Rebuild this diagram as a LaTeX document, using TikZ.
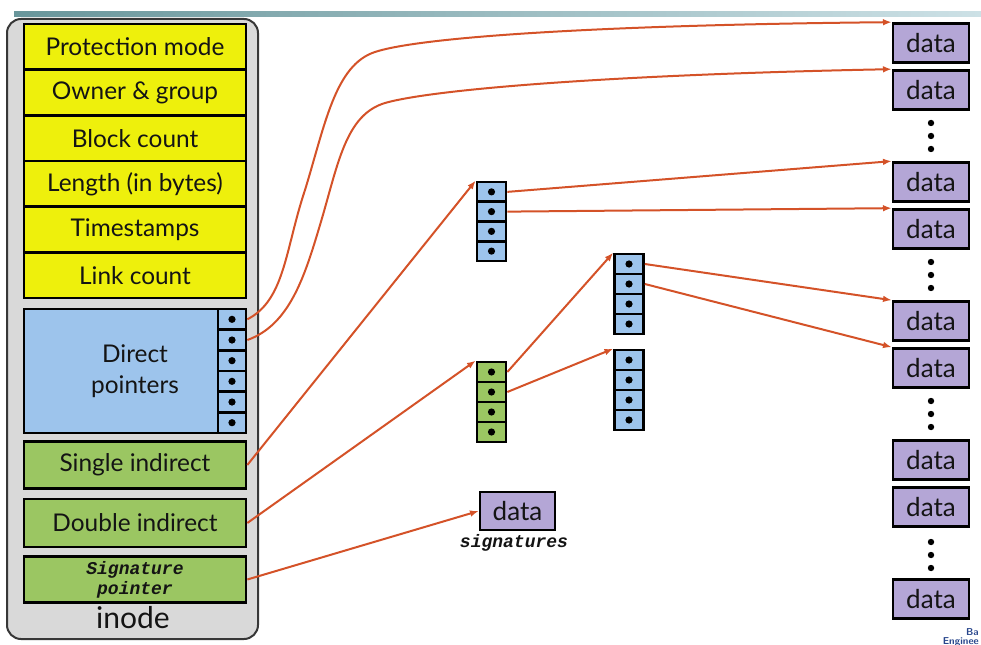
\documentclass[tikz,border=0pt]{standalone}
\usepackage{fontspec}
\setmainfont{Lato}
\setmonofont{Liberation Mono}
\usetikzlibrary{arrows.meta,calc}
\definecolor{yel}{RGB}{238,240,12}
\definecolor{lblue}{RGB}{157,196,236}
\definecolor{lgreen}{RGB}{155,198,98}
\definecolor{lpurp}{RGB}{180,166,214}
\definecolor{igray}{RGB}{217,217,217}
\definecolor{arr}{RGB}{212,82,40}
\definecolor{barL}{RGB}{105,150,155}
\definecolor{barR}{RGB}{205,225,230}
\definecolor{txt}{RGB}{20,20,20}
\definecolor{logo}{RGB}{40,70,140}
\begin{document}
\begin{tikzpicture}[x=0.75pt,y=-0.75pt,
  bx/.style={draw=black, line width=2pt, inner sep=0pt, text=txt},
  ybox/.style={bx, fill=yel, minimum width=166.5pt, minimum height=34.25pt, font=\fontsize{18.3}{21}\selectfont},
  gbox/.style={bx, fill=lgreen, minimum width=166.5pt, minimum height=34.9pt, font=\fontsize{18.3}{21}\selectfont},
  pcell/.style={bx, fill=lblue, minimum width=21pt, minimum height=15.5pt},
  bcell/.style={bx, fill=lblue, minimum width=21.75pt, minimum height=14.9pt},
  gcell/.style={bx, fill=lgreen, minimum width=21.75pt, minimum height=15pt},
  dbox/.style={bx, fill=lpurp, minimum width=57pt, minimum height=29.25pt, font=\fontsize{19.5}{21}\selectfont},
  arrow/.style={draw=arr, line width=1.5pt, -{Latex[length=6.5pt,width=5pt]}},
  dot/.style={fill=black},
  vdot/.style={fill=black}
]
\useasboundingbox (0,0) rectangle (981,645);
% top bar
\shade[left color=barL, right color=barR] (14,12) rectangle (981,17);
% inode container
\node[draw={rgb,255:red,55;green,55;blue,55}, line width=1.5pt, fill=igray, rounded corners=10.5pt,
      minimum width=188.25pt, minimum height=465pt, inner sep=0pt] (inode) at (132.5,329) {};
\node[font=\fontsize{22.5}{24}\selectfont, text=txt] (inodelbl) at (133,618) {inode};
% yellow fields
\node[ybox] (pm) at (135,46.8) {Protection mode};
\node[ybox] (og) at (135,92.5) {Owner \& group};
\node[ybox] (bc) at (135,138.2) {Block count};
\node[ybox] (len) at (135,183.8) {Length (in bytes)};
\node[ybox] (ts) at (135,229.5) {Timestamps};
\node[ybox] (lc) at (135,275.2) {Link count};
% direct pointers
\node[bx, fill=lblue, minimum width=166.5pt, minimum height=93pt, align=center,
      font=\fontsize{18.3}{23}\selectfont] (dp) at (135,371) {Direct\\pointers};
\foreach \i in {1,...,6}{
  \node[pcell] (dp\i) at (232,{309+20.67*(\i-0.5)}) {};
  \fill[dot] (dp\i.center) circle[radius=2.7pt];
}
% indirect fields
\node[gbox] (si) at (135,465) {Single indirect};
\node[gbox, minimum height=36pt] (di) at (135,523) {Double indirect};
\node[gbox, align=center, font=\fontsize{13.5}{15}\selectfont\ttfamily\bfseries\itshape] (sp) at (135,579.5) {Signature\\pointer};
% blocks
\foreach \i in {1,...,4}{
  \node[bcell] (b1\i) at (491.5,{182+19.75*(\i-0.5)}) {};
  \fill[dot] (b1\i.center) circle[radius=2.7pt];
  \node[gcell] (g\i) at (491.5,{362+20*(\i-0.5)}) {};
  \fill[dot] (g\i.center) circle[radius=2.7pt];
  \node[bcell] (b2\i) at (629,{254+20*(\i-0.5)}) {};
  \fill[dot] (b2\i.center) circle[radius=2.7pt];
  \node[bcell] (b3\i) at (629,{350+20*(\i-0.5)}) {};
  \fill[dot] (b3\i.center) circle[radius=2.7pt];
}
% data blocks
\node[dbox] (d1) at (931,43) {data};
\node[dbox] (d2) at (931,90) {data};
\node[dbox] (d3) at (931,182) {data};
\node[dbox] (d4) at (931,229) {data};
\node[dbox] (d5) at (931,321) {data};
\node[dbox] (d6) at (931,368) {data};
\node[dbox] (d7) at (931,460) {data};
\node[dbox] (d8) at (931,507) {data};
\node[dbox] (d9) at (931,599) {data};
\foreach \y in {136,275,414,555}{
  \fill[vdot] (931,\y-13) circle[radius=2.4pt];
  \fill[vdot] (931,\y) circle[radius=2.4pt];
  \fill[vdot] (931,\y+13) circle[radius=2.4pt];
}
\node[dbox, minimum width=56.25pt, minimum height=28.5pt] (sd) at (517.5,511) {data};
\node[font=\fontsize{13.5}{15}\selectfont\ttfamily\bfseries\itshape, text=txt] (sig) at (514,543) {signatures};
% logo fragment
\node[anchor=east, font=\fontsize{7.5}{8}\selectfont\sffamily\bfseries, text=logo, inner sep=0pt] (logo1) at (979,632) {Ba};
\node[anchor=east, font=\fontsize{7.5}{8}\selectfont\sffamily\bfseries, text=logo, inner sep=0pt] (logo2) at (979,642) {Enginee};
% arrows
\draw[arrow] (dp1.east) .. controls (285,300) and (285,250) .. (305,190)
   .. controls (325,125) and (335,65) .. (375,52)
   .. controls (420,37) and (600,25) .. (d1.north west);
\draw[arrow] (dp2.east) .. controls (290,325) and (305,275) .. (320,225)
   .. controls (338,165) and (345,115) .. (385,103)
   .. controls (430,90) and (600,75) .. (d2.north west);
\draw[arrow] (si.east) -- (b11.north west);
\draw[arrow] (di.east) -- (g1.north west);
\draw[arrow] (sp.east) -- (sd.west);
\draw[arrow] (b11.east) -- (d3.north west);
\draw[arrow] (b12.east) -- (d4.north west);
\draw[arrow] (g1.east) -- (b21.north west);
\draw[arrow] (g2.east) -- (b31.north west);
\draw[arrow] (b21.east) -- (d5.north west);
\draw[arrow] (b22.east) -- (d6.north west);
\end{tikzpicture}
\end{document}
